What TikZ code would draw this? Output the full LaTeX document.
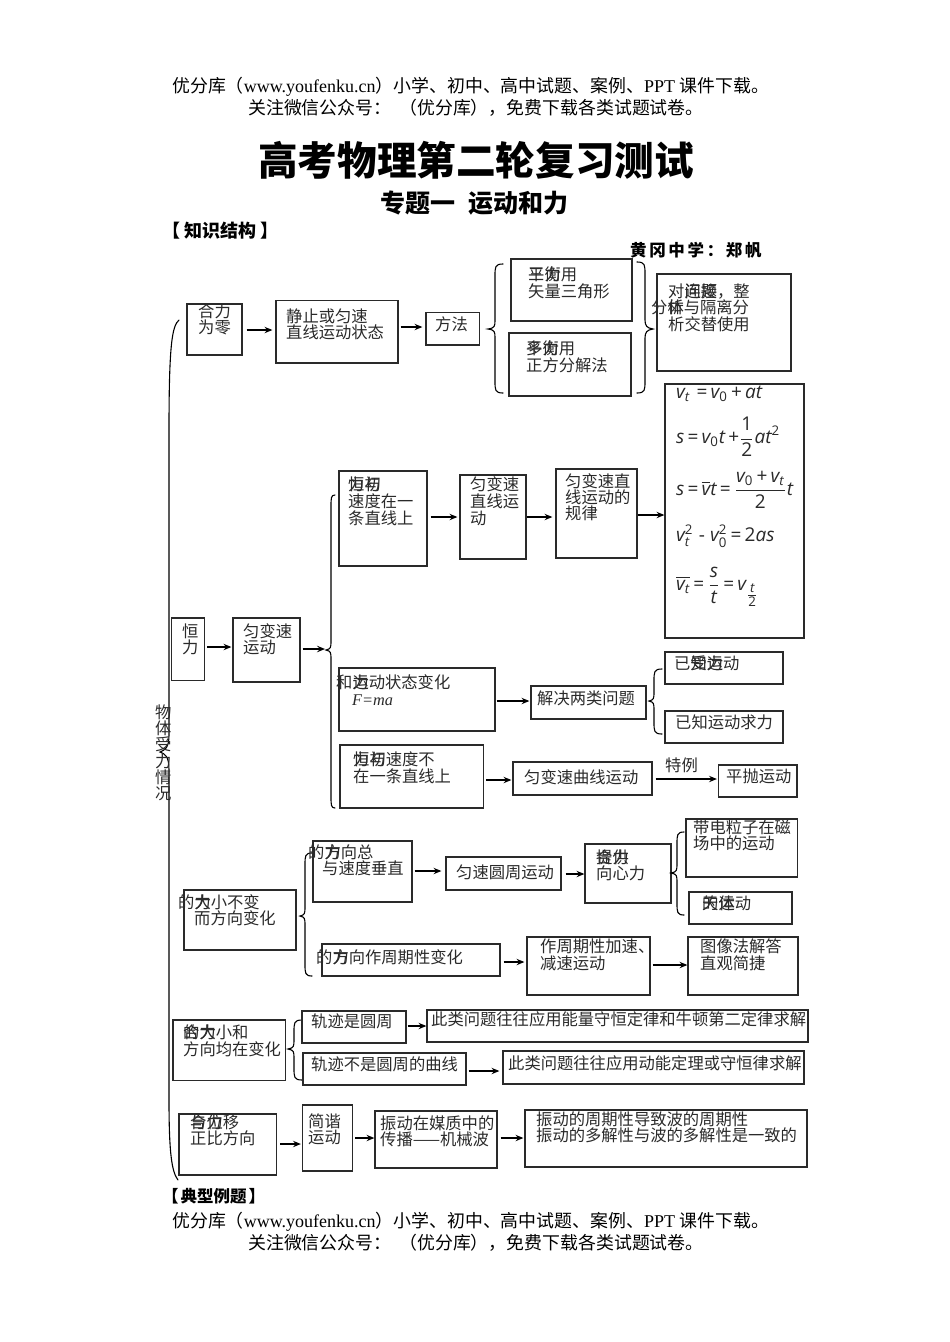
\documentclass[tikz,border=0pt]{standalone}
\usepackage{fontspec}
\usepackage{graphicx}
\usepackage{amstext}
\usetikzlibrary{arrows.meta,fit,calc}
\setmainfont[Kerning=Off]{Noto Sans CJK SC}
\newfontfamily\lat{Liberation Serif}
\newfontfamily\spaced[LetterSpace=16]{Noto Sans CJK SC}
\newfontfamily\fmf{Open Sans}
\newcommand{\fmi}[1]{\text{\fmf\itshape\mdseries #1}}
\newcommand{\fmu}[1]{\text{\fmf\mdseries #1}}
\newcommand{\eqs}{\,\fmu{=}\,}
\definecolor{ink}{HTML}{2A2A2A}
\newcommand{\ov}[2]{\rlap{#1}#2}
\tikzset{
  boxst/.style={draw=ink,line width=1.25pt,inner sep=0pt},
  txt/.style={anchor=north west,inner sep=0pt,align=left,text=ink},
  arr/.style={draw=black,line width=1.15pt,-{Stealth[length=8pt,width=6.5pt,inset=3pt]}},
  brc/.style={draw=black,line width=1.1pt,line cap=round},
  head/.style={inner sep=0pt,text=black,anchor=west},
  fm/.style={inner sep=0pt,anchor=west,text=ink}
}
% box: name x1 y1 x2 y2
\newcommand{\bx}[5]{\node[boxst,fit={(#2,#3)(#4,#5)}] (#1) {};}
% text: name x top pitch content
\newcommand{\tx}[5]{\node[txt,font=\fontsize{16.3}{#4}\selectfont] (#1) at (#2,#3) {\rule{0pt}{14pt}#5};}
% connector: from to y gap1 gap2
\newcommand{\conn}[5]{\coordinate (T) at (0,#3); \draw[arr] ($(#1.east |- T)+(#4,0)$) -- ($(#2.west |- T)+(#5,0)$);}
% left brace: endx top bot bodyx tipx tipy
\newcommand{\lb}[6]{\draw[brc] (#1,#2) .. controls (#4,#2) and (#4,#2+3) .. (#4,#2+12) -- (#4,#6-9) .. controls (#4,#6-3) and (#4,#6-1) .. (#5,#6) .. controls (#4,#6+1) and (#4,#6+3) .. (#4,#6+9) -- (#4,#3-12) .. controls (#4,#3-3) and (#4,#3) .. (#1,#3);}
\newcommand{\hdra}{优分库（{\lat\fontsize{18}{18}\selectfont www.youfenku.cn}）小学、初中、高中试题、案例、{\lat\fontsize{18}{18}\selectfont PPT }课件下载。}
\newcommand{\hdrb}{关注微信公众号：\kern8pt （优分库），免费下载各类试题试卷。}
\begin{document}
\begin{tikzpicture}[x=1pt,y=-1pt]
\useasboundingbox (0,0) rectangle (950,1342);
\fill[white] (0,0) rectangle (950,1342);
% headers
\node[head,font=\fontsize{17.9}{20}\selectfont] (h1) at (172,87) {\hdra};
\node[head,font=\fontsize{17.9}{20}\selectfont] (h2) at (248,108) {\hdrb};
\node[head,font=\fontsize{39.6}{42}\selectfont\bfseries] (title) at (258,160) {高考物理第二轮复习测试};
\node[head,font=\fontsize{25}{28}\selectfont\bfseries] (sub) at (380.5,203) {专题一\hspace{13pt}运动和力};
\node[head,font=\fontsize{18}{20}\selectfont\bfseries] (zs) at (162,231) {【\kern4pt 知识结构\kern4pt 】};
\node[head,font=\fontsize{16.5}{20}\selectfont\spaced\bfseries] (hg) at (630,250) {黄冈中学：郑帆};
\node[head,font=\fontsize{16.5}{18}\selectfont\bfseries] (dx) at (162,1196) {【\kern2pt 典型例题\kern2pt 】};
\node[head,font=\fontsize{17.9}{20}\selectfont] (f1) at (172,1222) {\hdra};
\node[head,font=\fontsize{17.9}{20}\selectfont] (f2) at (248,1243) {\hdrb};
% big brace and label
\draw[brc] (179,320) .. controls (172,326) and (169,345) .. (169,430) -- (169,735) .. controls (169,748) and (165,750) .. (160,752) .. controls (165,754) and (169,756) .. (169,770) -- (169,1100) .. controls (169,1155) and (172,1172) .. (178,1180);
\tx{lab}{155}{704}{16.3}{物\\体\\受\\力\\情\\况}
% row 1
\bx{a1}{187}{304}{242}{355}
\tx{a1t}{198}{303}{16.5}{合力\\为零}
\bx{a2}{276}{300.5}{398}{363}
\tx{a2t}{286}{308}{16}{静止或匀速\\直线运动状态}
\bx{a3}{426}{312.5}{479.5}{345}
\tx{a3t}{435}{316}{16}{方法}
\conn{a1}{a2}{330}{4}{-3}
\conn{a2}{a3}{327}{2}{-3}
\lb{503}{264}{393}{495}{488}{329}
\bx{a4}{511}{259}{632}{321}
\tx{a4t}{528}{266}{17}{\ov{三}{平}\ov{力}{衡}用\\矢量三角形}
\bx{a5}{509}{333}{631}{396}
\tx{a5t}{526}{340}{17}{\ov{多}{平}\ov{力}{衡}用\\正方分解法}
\draw[brc] (637,262) .. controls (645,262) and (645,265) .. (645,274) -- (645,320) .. controls (645,326) and (647,328) .. (653,329) .. controls (647,330) and (645,332) .. (645,338) -- (645,381) .. controls (645,390) and (645,393) .. (637,393);
\bx{a6}{657}{274}{791}{371}
\tx{a6t}{651}{283}{16.5}{\hspace*{17pt}对\ov{连}{问}\ov{接}{题}，整\\分\ov{体}{析}与隔离分\\\hspace*{17pt}析交替使用}
% formulas
\bx{fb}{665}{384}{804}{638}
\node[fm] (e1) at (676,394) {\scalebox{1.9}{$\fmi{v}_{\fmi{t}}\,\eqs\fmi{v}_{\fmu{0}}\,\fmu{+}\,\fmi{at}$}};
\node[fm] (e2) at (676,437) {\scalebox{1.9}{$\displaystyle \fmi{s}\eqs\fmi{v}_{\fmu{0}}\fmi{t}\,\fmu{+}\frac{\fmu{1}}{\fmu{2}}\fmi{at}^{\fmu{2}}$}};
\node[fm] (e3) at (676,490) {\scalebox{1.9}{$\displaystyle \fmi{s}\eqs\overline{\fmi{v}}\fmi{t}\eqs\frac{\fmi{v}_{\fmu{0}}\,\fmu{+}\,\fmi{v}_{\fmi{t}}}{\fmu{2}}\fmi{t}$}};
\node[fm] (e4) at (676,536) {\scalebox{1.9}{$\fmi{v}_{\fmi{t}}^{\fmu{2}}\;\fmu{-}\;\fmi{v}_{\fmu{0}}^{\fmu{2}}\eqs\fmu{2}\fmi{as}$}};
\node[fm] (e5) at (676,587) {\scalebox{1.9}{$\displaystyle \overline{\fmi{v}_{\fmi{t}}}\eqs\frac{\fmi{s}}{\fmi{t}}\eqs\fmi{v}_{\textstyle\frac{\fmi{t}}{\fmu{2}}}$}};
% row 2
\bx{b1}{171.5}{618}{204.5}{680.5}
\tx{b1t}{182}{623}{16}{恒\\力}
\bx{b2}{233}{618}{300}{682}
\tx{b2t}{243}{623}{16}{匀变速\\运动}
\conn{b1}{b2}{647}{2}{-1}
\coordinate (bt) at (325,649);
\draw[arr] ($(b2.east |- bt)+(2,0)$) -- (bt);
\lb{335}{495}{808}{331}{326}{650}
\bx{c1}{339}{471}{427}{566}
\tx{c1t}{348}{476}{17}{\ov{力}{恒}\ov{与}{初}\\速度在一\\条直线上}
\bx{c2}{460}{475}{526}{559}
\tx{c2t}{470}{476}{17}{匀变速\\直线运\\动}
\bx{c3}{556}{469}{637}{558}
\tx{c3t}{565}{473}{16}{匀变速直\\线运动的\\规律}
\conn{c1}{c2}{517}{3}{-2}
\conn{c2}{c3}{517}{0}{-3}
\conn{c3}{fb}{515}{0}{0}
\bx{d1}{339}{668}{495}{731}
\tx{d1t}{336}{674}{17}{和\ov{力}{运}动状态变化\\\hspace*{16pt}{\lat\itshape F=ma}}
\bx{d2}{531}{686}{646}{719}
\tx{d2t}{537}{690}{16}{解决两类问题}
\conn{d1}{d2}{701}{1}{-1}
\lb{662}{669}{734}{654}{649}{701}
\bx{d3}{665}{652}{783}{684}
\tx{d3t}{674}{655}{16}{已\ov{知}{受}\ov{力}{运}动}
\bx{d4}{665}{711}{783}{743}
\tx{d4t}{675}{714}{16}{已知运动求力}
\bx{e1b}{340}{745}{483.5}{808}
\tx{e1t}{353}{751}{17}{\ov{力}{恒}\ov{与}{初}速度不\\在一条直线上}
\bx{e2b}{513}{762}{652}{795}
\tx{e2t}{524}{769}{16}{匀变速曲线运动}
\bx{e3b}{718.5}{765}{797}{797}
\tx{e3t}{726}{768}{16}{平抛运动}
\conn{e1b}{e2b}{780}{2}{-1}
\conn{e2b}{e3b}{779}{3}{-1}
\tx{tl}{665}{757}{16}{特例}
% row 3
\bx{g1}{184}{890}{296}{950}
\tx{g1t}{178}{894}{16.5}{的\ov{力}{大}小不变\\\hspace*{16pt}而方向变化}
\lb{312}{853}{976}{305}{300}{916}
\bx{g2}{313}{841}{412}{902}
\tx{g2t}{308}{844}{16}{的\ov{力}{方}向总\\\hspace*{14pt}与速度垂直}
\bx{g3}{322}{944}{500}{976}
\tx{g3t}{316}{949}{16}{的\ov{力}{方}向作周期性变化}
\bx{g4}{446}{857}{561}{890}
\tx{g4t}{456}{864}{16}{匀速圆周运动}
\conn{g2}{g4}{871}{2}{-4}
\bx{g5}{585}{844}{671}{903}
\tx{g5t}{596}{849}{16}{\ov{合}{提}\ov{力}{供}\\向心力}
\conn{g4}{g5}{874}{4}{0}
\lb{684}{832}{915}{677}{671}{873}
\bx{g6}{686}{819}{797.5}{877}
\tx{g6t}{693}{819}{16}{带电粒子在磁\\场中的运动}
\bx{g7}{689}{892}{792}{924}
\tx{g7t}{702}{895}{16}{\ov{的}{天}\ov{体}{运}动}
\bx{g8}{527}{937}{650}{995}
\tx{g8t}{540}{938}{17}{作周期性加速、\\减速运动}
\conn{g3}{g8}{962}{3}{-2}
\bx{g9}{688}{937}{798}{995}
\tx{g9t}{700}{938}{17}{图像法解答\\直观简捷}
\conn{g8}{g9}{965}{2}{0}
% row 4
\bx{k1}{173}{1020}{285.5}{1080.5}
\tx{k1t}{183}{1024}{17}{\ov{的}{合}\ov{力}{大}小和\\方向均在变化}
\lb{302}{1020}{1080}{294}{288}{1049}
\bx{k2}{302}{1011}{406}{1043}
\tx{k2t}{311}{1013}{16}{轨迹是圆周}
\bx{k3}{303}{1053}{466}{1085}
\tx{k3t}{311}{1056}{16}{轨迹不是圆周的曲线}
\bx{k4}{427}{1010}{808}{1042}
\tx{k4t}{431}{1011}{16}{此类问题往往应用能量守恒定律和牛顿第二定律求解}
\bx{k5}{503}{1051}{804}{1084}
\tx{k5t}{508}{1055}{16}{此类问题往往应用动能定理或守恒律求解}
\conn{k2}{k4}{1026}{1}{0}
\conn{k3}{k5}{1071}{2}{-3}
% row 5
\bx{m1}{179}{1114}{276.5}{1175}
\tx{m1t}{190}{1114}{16.5}{\ov{合}{与}\ov{力}{位}移\\正比方向}
\bx{m2}{302.5}{1105}{352.5}{1171}
\tx{m2t}{308}{1113}{16}{简谐\\运动}
\bx{m3}{375}{1111}{497}{1168}
\tx{m3t}{380}{1115}{16}{振动在媒质中的\\传播——机械波}
\bx{m4}{525}{1110}{807}{1167}
\tx{m4t}{536}{1111}{16.5}{振动的周期性导致波的周期性\\振动的多解性与波的多解性是一致的}
\conn{m1}{m2}{1144}{3}{-1}
\conn{m2}{m3}{1138}{2}{0}
\conn{m3}{m4}{1138}{3}{-1}
\end{tikzpicture}
\end{document}
